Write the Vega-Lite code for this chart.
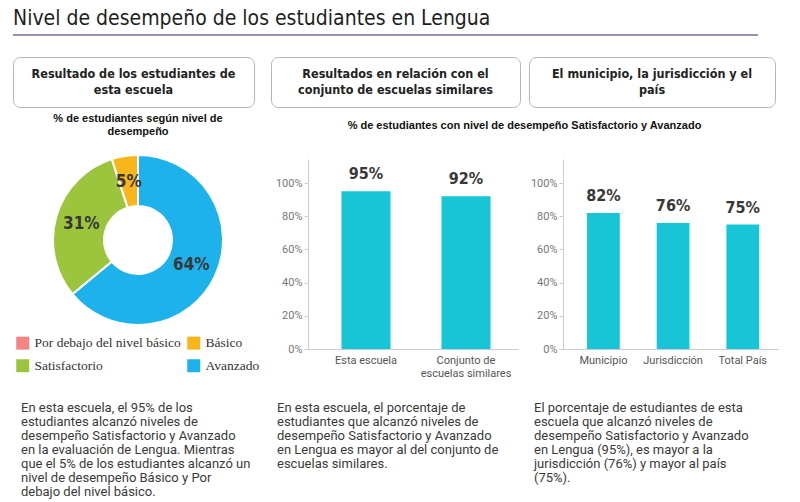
{
  "$schema": "https://vega.github.io/schema/vega-lite/v6.json",
  "background": "white",
  "padding": {"left": 12, "top": 8, "right": 0, "bottom": 0},
  "spacing": 16,
  "config": {
    "view": {"stroke": null},
    "axis": {"grid": false, "title": null, "domainColor": "#cccccc", "tickColor": "#cccccc", "labelFont": "Roboto", "labelFontSize": 11},
    "title": {"font": "Liberation Sans", "fontWeight": "bold", "fontSize": 11, "color": "#111111"}
  },
  "resolve": {"scale": {"color": "independent"}, "legend": {"color": "independent"}},
  "vconcat": [
    {
      "width": 745,
      "height": 2,
      "view": {"fill": "#9d8fa8", "stroke": null},
      "title": {"text": "Nivel de desempeño de los estudiantes en Lengua", "anchor": "start", "font": "DejaVu Sans Condensed, Roboto", "fontSize": 21, "fontWeight": "normal", "color": "#1e1e1e", "offset": 0},
      "data": {"values": [{}]},
      "mark": {"type": "text", "text": ""},
      "encoding": {}
    },
    {
      "spacing": 5,
      "resolve": {"scale": {"color": "independent"}, "legend": {"color": "independent"}},
      "vconcat": [
        {
          "spacing": 15,
          "hconcat": [
            {
              "width": 241, "height": 50,
              "view": {"stroke": "#b9b0c0", "strokeWidth": 1, "cornerRadius": 7},
              "data": {"values": [{"t": "Resultado de los estudiantes de\nesta escuela"}]},
              "mark": {"type": "text", "lineBreak": "\n", "lineHeight": 16, "dy": -8, "font": "DejaVu Sans Condensed, Roboto", "fontSize": 12.5, "fontWeight": "bold", "color": "#222222"},
              "encoding": {"text": {"field": "t"}}
            },
            {
              "spacing": 7,
              "hconcat": [
                {
                  "width": 249, "height": 50,
                  "view": {"stroke": "#b9b0c0", "strokeWidth": 1, "cornerRadius": 7},
                  "data": {"values": [{"t": "Resultados en relación con el\nconjunto de escuelas similares"}]},
                  "mark": {"type": "text", "lineBreak": "\n", "lineHeight": 16, "dy": -8, "font": "DejaVu Sans Condensed, Roboto", "fontSize": 12.5, "fontWeight": "bold", "color": "#222222"},
                  "encoding": {"text": {"field": "t"}}
                },
                {
                  "width": 246, "height": 50,
                  "view": {"stroke": "#b9b0c0", "strokeWidth": 1, "cornerRadius": 7},
                  "data": {"values": [{"t": "El municipio, la jurisdicción  y el\npaís"}]},
                  "mark": {"type": "text", "lineBreak": "\n", "lineHeight": 16, "dy": -8, "font": "DejaVu Sans Condensed, Roboto", "fontSize": 12.5, "fontWeight": "bold", "color": "#222222"},
                  "encoding": {"text": {"field": "t"}}
                }
              ]
            }
          ]
        },
        {
          "spacing": 7,
          "resolve": {"scale": {"color": "independent"}, "legend": {"color": "independent"}},
          "hconcat": [
            {
              "width": 250, "height": 162,
              "title": {"text": ["% de estudiantes  según nivel de", "desempeño"], "anchor": "middle", "offset": 14, "lineHeight": 13},
              "data": {"values": [
                {"nivel": "Por debajo del nivel básico", "pct": 0},
                {"nivel": "Básico", "pct": 0.05},
                {"nivel": "Satisfactorio", "pct": 0.31},
                {"nivel": "Avanzado", "pct": 0.64}
              ]},
              "encoding": {
                "theta": {"field": "pct", "type": "quantitative", "stack": true},
                "order": {"field": "pct", "sort": "descending"}
              },
              "layer": [
                {
                  "mark": {"type": "arc", "innerRadius": 34, "outerRadius": 85, "stroke": "white", "strokeWidth": 2},
                  "encoding": {
                    "color": {
                      "field": "nivel", "type": "nominal",
                      "scale": {"domain": ["Por debajo del nivel básico", "Básico", "Satisfactorio", "Avanzado"], "range": ["#f08583", "#f8b51c", "#9bc53d", "#1db2eb"]},
                      "legend": {"orient": "bottom", "columns": 2, "title": null, "symbolType": "square", "symbolSize": 169, "symbolStrokeWidth": 0, "labelFont": "Liberation Serif", "labelFontSize": 13.5, "labelColor": "#333333", "columnPadding": 6, "rowPadding": 8, "offset": 12, "padding": 3, "labelOffset": 5, "labelLimit": 250}
                    }
                  }
                },
                {
                  "transform": [{"filter": "datum.pct > 0"}],
                  "mark": {"type": "text", "radius": 59, "font": "DejaVu Sans Condensed, Roboto", "fontSize": 17, "fontWeight": "bold", "color": "#383838"},
                  "encoding": {"text": {"field": "pct", "type": "quantitative", "format": ".0%"}}
                }
              ]
            },
            {
              "spacing": 7,
              "title": {"text": ["", "% de estudiantes  con nivel de desempeño Satisfactorio y Avanzado"], "anchor": "middle", "offset": 28, "lineHeight": 0},
              "hconcat": [
                {
                  "width": 210, "height": 190,
                  "data": {"values": [
                    {"grupo": "Esta escuela", "pct": 0.95},
                    {"grupo": "Conjunto de escuelas similares", "pct": 0.92}
                  ]},
                  "encoding": {
                    "x": {"field": "grupo", "type": "nominal", "sort": null,
                      "scale": {"paddingInner": 0, "paddingOuter": 0.05, "align": 0.8},
                      "axis": {"labelAngle": 0, "ticks": false, "labelColor": "#555555", "labelPadding": 5, "labelLineHeight": 13,
                        "labelExpr": "datum.label == 'Conjunto de escuelas similares' ? ['Conjunto de', 'escuelas similares'] : datum.label"}},
                    "y": {"field": "pct", "type": "quantitative",
                      "scale": {"domain": [0, 1.145], "nice": false},
                      "axis": {"values": [0, 0.2, 0.4, 0.6, 0.8, 1], "format": ".0%", "labelColor": "#777777", "tickSize": 4, "labelPadding": 2, "minExtent": 38, "maxExtent": 38}}
                  },
                  "layer": [
                    {"mark": {"type": "bar", "color": "#17c6d6", "width": {"band": 0.49}}},
                    {"mark": {"type": "text", "baseline": "middle", "dy": -17, "font": "DejaVu Sans Condensed, Roboto", "fontSize": 16, "fontWeight": "bold", "color": "#383838"},
                     "encoding": {"text": {"field": "pct", "type": "quantitative", "format": ".0%"}}}
                  ]
                },
                {
                  "width": 216, "height": 190,
                  "data": {"values": [
                    {"grupo": "Municipio", "pct": 0.82},
                    {"grupo": "Jurisdicción", "pct": 0.76},
                    {"grupo": "Total País", "pct": 0.75}
                  ]},
                  "encoding": {
                    "x": {"field": "grupo", "type": "nominal", "sort": null,
                      "scale": {"paddingInner": 0, "paddingOuter": 0.05, "align": 0.8},
                      "axis": {"labelAngle": 0, "ticks": false, "labelColor": "#555555", "labelPadding": 5}},
                    "y": {"field": "pct", "type": "quantitative",
                      "scale": {"domain": [0, 1.145], "nice": false},
                      "axis": {"values": [0, 0.2, 0.4, 0.6, 0.8, 1], "format": ".0%", "labelColor": "#777777", "tickSize": 4, "labelPadding": 2, "minExtent": 38, "maxExtent": 38}}
                  },
                  "layer": [
                    {"mark": {"type": "bar", "color": "#17c6d6", "width": {"band": 0.47}}},
                    {"mark": {"type": "text", "baseline": "middle", "dy": -17, "font": "DejaVu Sans Condensed, Roboto", "fontSize": 16, "fontWeight": "bold", "color": "#383838"},
                     "encoding": {"text": {"field": "pct", "type": "quantitative", "format": ".0%"}}}
                  ]
                }
              ]
            }
          ]
        },
        {
          "spacing": 20,
          "hconcat": [
            {
              "width": 244, "height": 1,
              "title": {"text": ["En esta escuela, el 95% de los", "estudiantes alcanzó niveles de", "desempeño Satisfactorio y Avanzado", "en la evaluación de Lengua. Mientras", "que el 5% de los estudiantes alcanzó un", "nivel de desempeño Básico y Por", "debajo del nivel básico."], "orient": "bottom", "anchor": "start", "align": "left", "baseline": "top", "font": "Roboto", "fontSize": 13, "fontWeight": "normal", "color": "#3a3a3a", "lineHeight": 14, "offset": 7, "dx": 8},
              "data": {"values": [{}]},
              "mark": {"type": "text", "text": ""},
              "encoding": {}
            },
            {
              "width": 237, "height": 1,
              "title": {"text": ["En esta escuela, el porcentaje de", "estudiantes que alcanzó niveles de", "desempeño Satisfactorio y Avanzado", "en Lengua es mayor al del conjunto de", "escuelas similares."], "orient": "bottom", "anchor": "start", "align": "left", "baseline": "top", "font": "Roboto", "fontSize": 13, "fontWeight": "normal", "color": "#3a3a3a", "lineHeight": 14, "offset": 7},
              "data": {"values": [{}]},
              "mark": {"type": "text", "text": ""},
              "encoding": {}
            },
            {
              "width": 237, "height": 1,
              "title": {"text": ["El porcentaje de  estudiantes de esta", "escuela que alcanzó niveles de", "desempeño Satisfactorio y Avanzado", "en Lengua (95%), es mayor a la", "jurisdicción (76%) y mayor al país", "(75%)."], "orient": "bottom", "anchor": "start", "align": "left", "baseline": "top", "font": "Roboto", "fontSize": 13, "fontWeight": "normal", "color": "#3a3a3a", "lineHeight": 14, "offset": 7},
              "data": {"values": [{}]},
              "mark": {"type": "text", "text": ""},
              "encoding": {}
            }
          ]
        }
      ]
    }
  ]
}
